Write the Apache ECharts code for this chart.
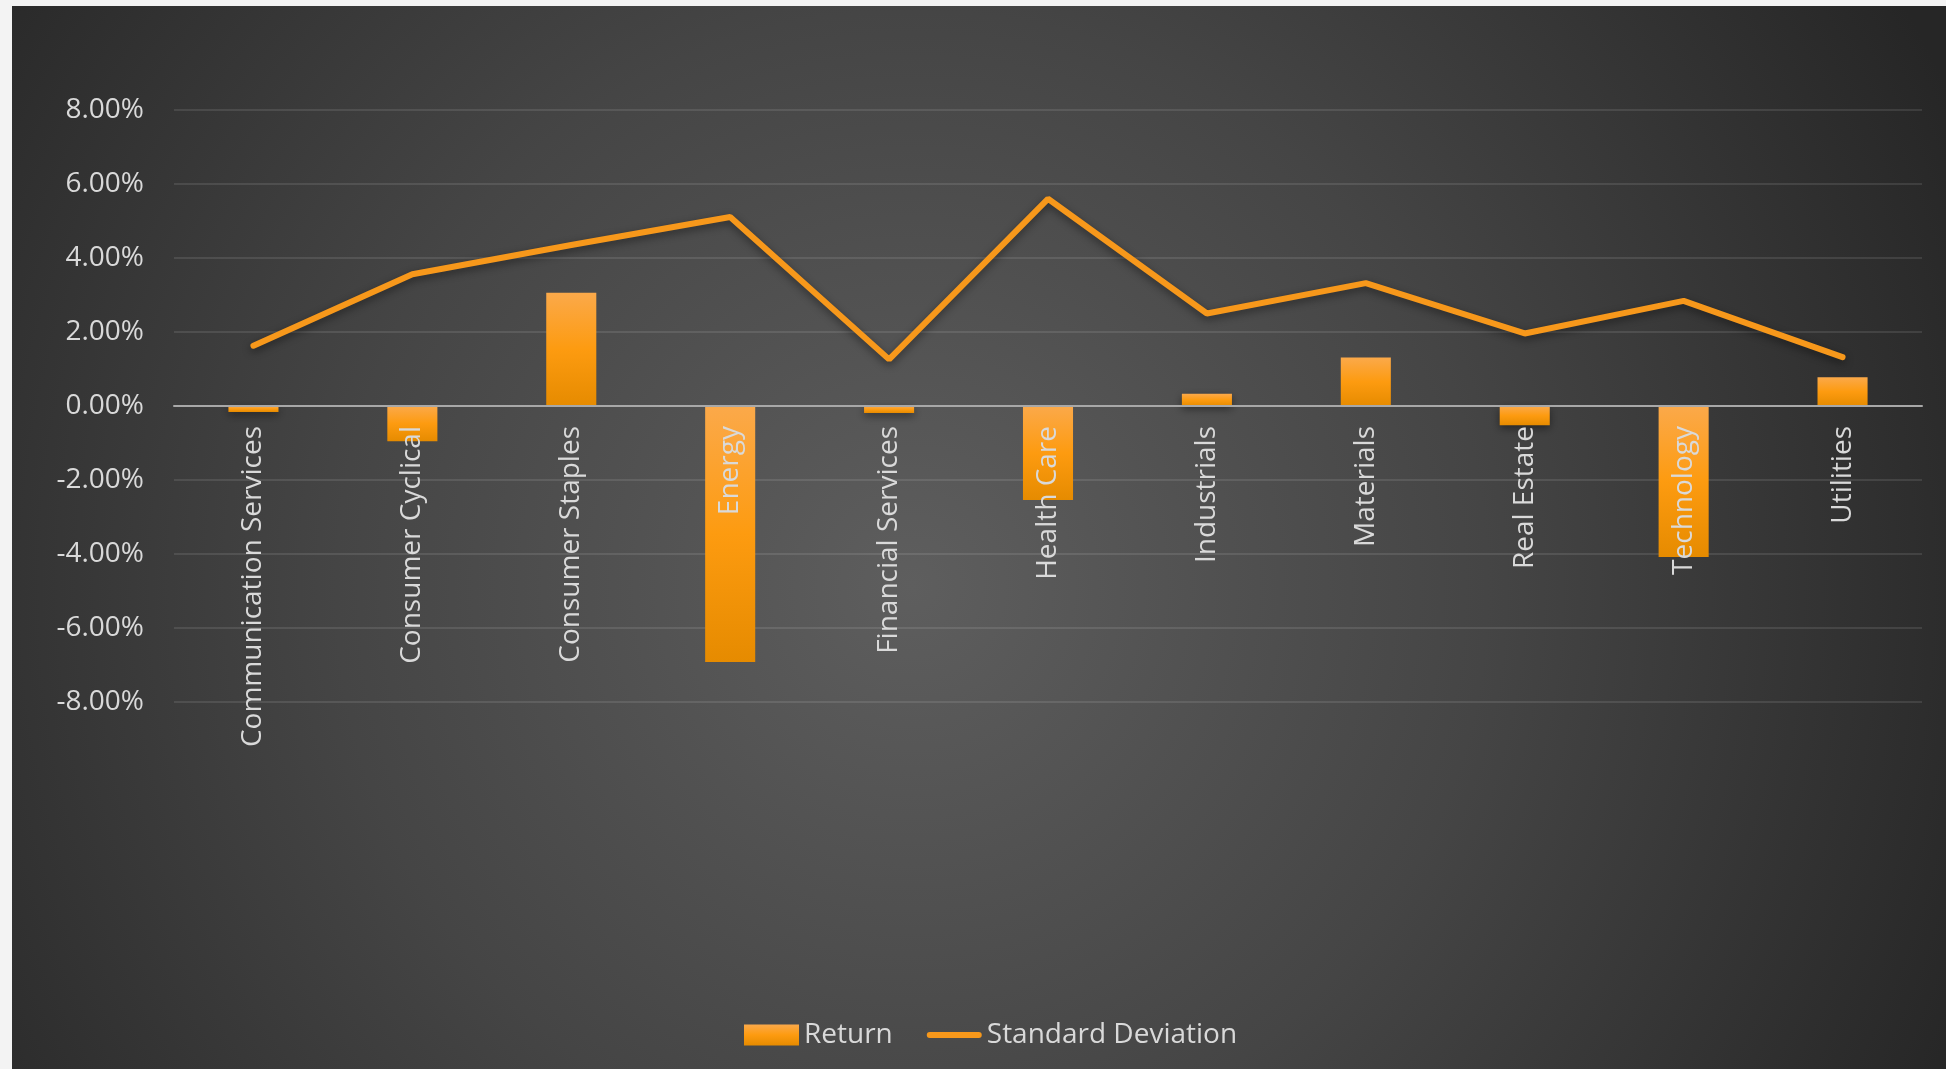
<!DOCTYPE html>
<html>
<head>
<meta charset="utf-8">
<script src="https://cdn.jsdelivr.net/npm/echarts@6/dist/echarts.min.js"></script>
<style>
    html, body {
        margin: 0;
        padding: 0;
        background: #f3f3f3;
    }
    #main {
        position: absolute;
        left: 12px;
        top: 6px;
        width: 1934px;
        height: 1063px;
    }
</style>
</head>
<body>
<div id="main"></div>
<script>
var sectors = ['Communication Services', 'Consumer Cyclical', 'Consumer Staples', 'Energy',
    'Financial Services', 'Health Care', 'Industrials', 'Materials', 'Real Estate',
    'Technology', 'Utilities'];
// values in percent
var returns = [-0.16, -0.95, 3.06, -6.92, -0.19, -2.54, 0.33, 1.31, -0.52, -4.08, 0.78];
var stdDev = [1.63, 3.56, 4.35, 5.11, 1.26, 5.60, 2.50, 3.32, 1.96, 2.84, 1.32];
var yTicks = [-8, -6, -4, -2, 0, 2, 4, 6, 8];

var myChart = echarts.init(document.getElementById('main'));
var labelColor = '#d9d9d9';
var font = '"Open Sans", "Noto Sans", sans-serif';
var gridHeight = 592;

var option = {
    backgroundColor: {
        type: 'radial',
        x: 900, y: 580, r: 1150,
        global: true,
        colorStops: [
            { offset: 0, color: '#5e5e5e' },
            { offset: 0.5, color: '#454545' },
            { offset: 1, color: '#262626' }
        ]
    },
    textStyle: { fontFamily: font },
    grid: {
        left: 162,
        right: 24,
        top: 104,
        height: gridHeight
    },
    legend: {
        left: 727,
        top: 1010,
        itemWidth: 55,
        itemHeight: 21,
        itemGap: 34,
        textStyle: { color: labelColor, fontSize: 28, fontFamily: font },
        data: [
            { name: 'Return', icon: 'rect' },
            { name: 'Standard Deviation',
              icon: 'path://M3,0 L52,0 A3,3 0 0 1 52,6 L3,6 A3,3 0 0 1 3,0 Z' }
        ]
    },
    xAxis: {
        type: 'category',
        data: sectors,
        z: 10,
        // put the axis and its labels on the 0% line
        offset: -gridHeight / 2,
        axisLine: { onZero: false, lineStyle: { color: '#a8a8a8', width: 2 } },
        axisTick: { show: false },
        axisLabel: {
            rotate: 90,
            margin: 20,
            interval: 0,
            color: labelColor,
            fontSize: 28,
            fontFamily: font
        }
    },
    yAxis: {
        type: 'value',
        min: yTicks[0],
        max: yTicks[yTicks.length - 1],
        interval: 2,
        axisLine: { show: false },
        axisTick: { show: false },
        splitLine: { lineStyle: { color: 'rgba(255,255,255,0.1)', width: 2 } },
        axisLabel: {
            margin: 30,
            color: labelColor,
            fontSize: 28,
            fontFamily: font,
            formatter: function (v) { return v.toFixed(2) + '%'; }
        }
    },
    series: [
        {
            name: 'Return',
            type: 'bar',
            barWidth: '31.5%',
            data: returns,
            itemStyle: {
                color: new echarts.graphic.LinearGradient(0, 0, 0, 1, [
                    { offset: 0, color: '#fba94a' },
                    { offset: 0.5, color: '#fd9b10' },
                    { offset: 1, color: '#e68b00' }
                ]),
                shadowColor: 'rgba(0,0,0,0.45)',
                shadowBlur: 8,
                shadowOffsetY: 3
            }
        },
        {
            name: 'Standard Deviation',
            type: 'line',
            symbol: 'none',
            data: stdDev,
            lineStyle: {
                color: '#f7981b',
                width: 6,
                cap: 'round',
                shadowColor: 'rgba(0,0,0,0.45)',
                shadowBlur: 8,
                shadowOffsetY: 3
            },
            itemStyle: { color: '#f7981b' }
        }
    ]
};

option && myChart.setOption(option);
</script>
</body>
</html>
